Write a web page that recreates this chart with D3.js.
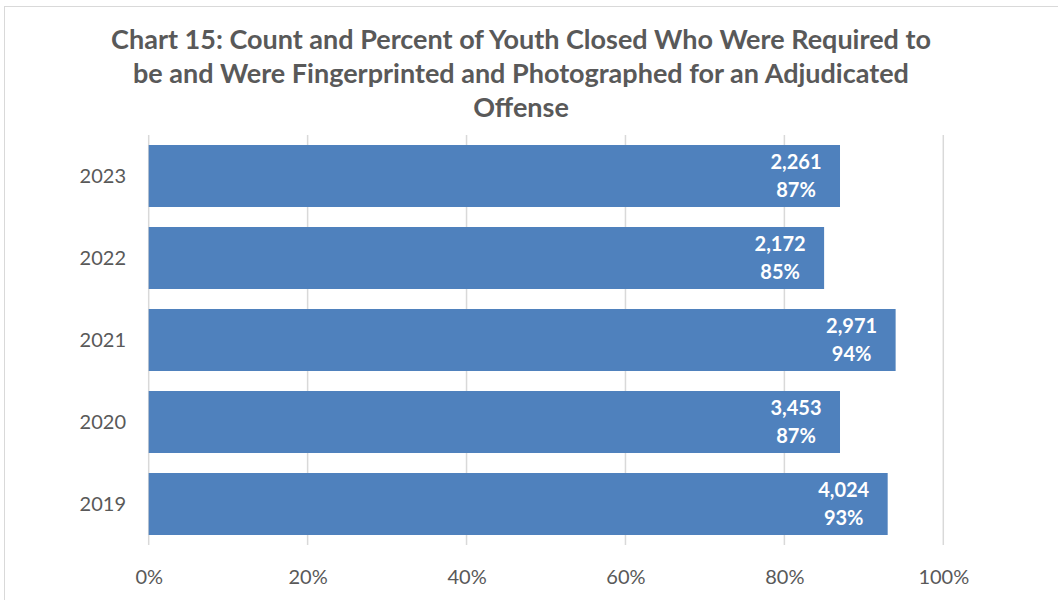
<!DOCTYPE html>
<html><head><meta charset="utf-8">
<script src="https://cdn.jsdelivr.net/npm/d3@7"></script>
<style>body{margin:0;background:#fff}svg{display:block}text{font-family:Lato,"Open Sans",sans-serif}</style>
</head><body>
<svg id="c" width="1058" height="600"></svg>
<script>
const titleLines = ["Chart 15: Count and Percent of Youth Closed Who Were Required to",
  "be and Were Fingerprinted and Photographed for an Adjudicated", "Offense"];
const years = ["2023","2022","2021","2020","2019"];
const percents = [0.87,0.85,0.94,0.87,0.93];
const counts = [2261,2172,2971,3453,4024];
const xTicks = [0,0.2,0.4,0.6,0.8,1.0];

const svg = d3.select("#c");
svg.append("rect").attr("x",4.5).attr("y",6.5).attr("width",1070).attr("height",620)
  .attr("fill","#fff").attr("stroke","#d9d9d9");

const x = d3.scaleLinear().domain([0,1]).range([148.7,943.3]);
const y = d3.scaleBand().domain(years).range([135,545]).paddingInner(0.244).paddingOuter(0.122);

svg.append("g").selectAll("text").data(titleLines).join("text")
  .attr("x",521).attr("y",(d,i)=>49+i*34).attr("text-anchor","middle")
  .attr("font-size",27).attr("font-weight",700).attr("fill","#595959").text(d=>d);

svg.append("g").selectAll("line").data(xTicks).join("line")
  .attr("x1",d=>x(d)).attr("x2",d=>x(d)).attr("y1",135).attr("y2",545)
  .attr("stroke","#d9d9d9").attr("stroke-width",1.5);

const xAxis = d3.axisBottom(x).tickValues(xTicks).tickFormat(d3.format(".0%")).tickSize(0).tickPadding(0);
const gx = svg.append("g").attr("transform","translate(0,584)").call(xAxis);
gx.select(".domain").remove();
gx.selectAll("text").attr("font-size",20).attr("fill","#595959").attr("dy",0).attr("font-family","Lato");

const yAxis = d3.axisLeft(y).tickSize(0).tickPadding(0);
const gy = svg.append("g").attr("transform","translate(126,0)").call(yAxis);
gy.select(".domain").remove();
gy.selectAll("text").attr("font-size",20).attr("fill","#595959").attr("dy","0.35em").attr("font-family","Lato");

const data = years.map((yr,i)=>({yr,p:percents[i],c:counts[i]}));
svg.append("g").selectAll("rect").data(data).join("rect")
  .attr("x",x(0)).attr("y",d=>y(d.yr)).attr("width",d=>x(d.p)-x(0)).attr("height",y.bandwidth())
  .attr("fill","#4f81bd");

const lab = svg.append("g").selectAll("text").data(data).join("text")
  .attr("text-anchor","middle").attr("font-size",20).attr("font-weight",700).attr("fill","#fff")
  .attr("transform",d=>`translate(${x(d.p)-44},${y(d.yr)+y.bandwidth()/2})`);
lab.append("tspan").attr("x",0).attr("y",-7).text(d=>d3.format(",")(d.c));
lab.append("tspan").attr("x",0).attr("y",21).text(d=>d3.format(".0%")(d.p));
</script></body></html>
